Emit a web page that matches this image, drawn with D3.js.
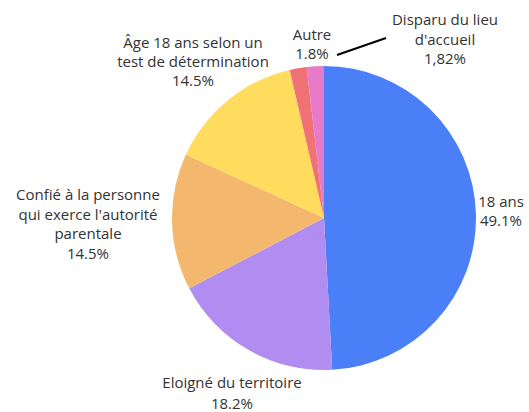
<!DOCTYPE html>
<html>
<head>
<meta charset="utf-8">
<script src="https://cdn.jsdelivr.net/npm/d3@7"></script>
<style>
  body { margin: 0; background: #fff; }
  text { font-family: "Open Sans", Lato, sans-serif; fill: #333; }
</style>
</head>
<body>
<div id="chart"></div>
<script>
// slices in clockwise order from 12 o'clock
const labels = ["18 ans", "Eloigné du territoire", "Confié à la personne qui exerce l'autorité parentale",
  "Âge 18 ans selon un test de détermination", "Autre", "Disparu du lieu d'accueil"];
const values = [49.1, 18.2, 14.5, 14.5, 1.8, 1.82];
const pctLabels = ["49.1%", "18.2%", "14.5%", "14.5%", "1.8%", "1,82%"];
const colors = ["#4b7ff7", "#b18df2", "#f3b86d", "#ffdc5d", "#f07277", "#e77bca"];

const width = 529, height = 412;
const cx = 324, cy = 218, radius = 152;

const svg = d3.select("#chart").append("svg")
  .attr("width", width)
  .attr("height", height);

const g = svg.append("g").attr("transform", `translate(${cx},${cy})`);

const pie = d3.pie().sort(null).value(d => d);
const arcs = pie(values);
const arc = d3.arc().innerRadius(0).outerRadius(radius);

g.selectAll("path")
  .data(arcs)
  .enter()
  .append("path")
  .attr("d", arc)
  .attr("fill", (d, i) => colors[i]);

// label blocks: text lines split as in the original, placed outside the pie
const labelLines = [
  ["18 ans", pctLabels[0]],
  ["Eloigné du territoire", pctLabels[1]],
  ["Confié à la personne", "qui exerce l'autorité", "parentale", pctLabels[2]],
  ["Âge 18 ans selon un", "test de détermination", pctLabels[3]],
  ["Autre", pctLabels[4]],
  ["Disparu du lieu", "d'accueil", pctLabels[5]]
];
// label anchor positions (top line baseline) relative to svg
const labelPos = [
  [501, 207], [232, 388], [88, 200], [193, 48], [312, 40], [445, 25]
];
const lineGap = [19, 21, 19.5, 19, 18.5, 19.5];

labelLines.forEach((lines, i) => {
  const t = svg.append("text")
    .attr("text-anchor", "middle")
    .style("font-size", "15px");
  lines.forEach((s, j) => {
    t.append("tspan")
      .attr("x", labelPos[i][0])
      .attr("y", labelPos[i][1] + j * lineGap[i])
      .text(s);
  });
});

// leader line for the small "Disparu" slice
svg.append("line")
  .attr("x1", cx + 13)
  .attr("y1", cy - radius - 11)
  .attr("x2", cx + 62)
  .attr("y2", cy - radius - 28)
  .attr("stroke", "#000")
  .attr("stroke-width", 2);
</script>
</body>
</html>
